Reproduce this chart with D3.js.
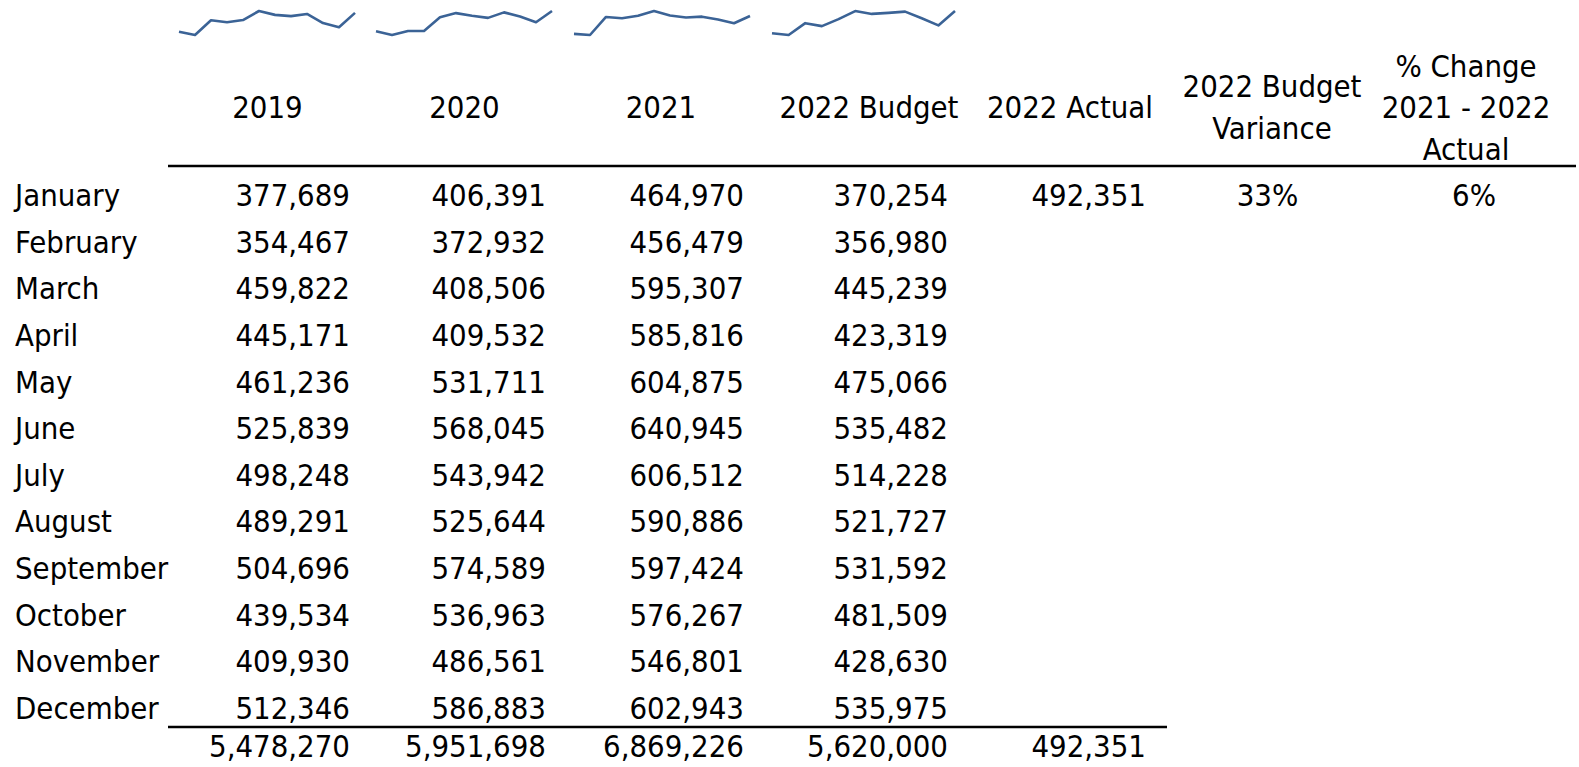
<!DOCTYPE html>
<html>
<head>
<meta charset="utf-8">
<script src="https://cdn.jsdelivr.net/npm/d3@7"></script>
<style>
  html, body { margin: 0; padding: 0; background: #fff; }
  svg { display: block; }
  text { font-family: "DejaVu Sans Condensed", "DejaVu Sans", sans-serif; font-stretch: condensed; font-size: 30.8px; fill: #000; }
</style>
</head>
<body>
<svg id="chart" width="1579" height="767"></svg>
<script>
const months = ["January","February","March","April","May","June","July","August","September","October","November","December"];
const v2019 = [377689,354467,459822,445171,461236,525839,498248,489291,504696,439534,409930,512346];
const v2020 = [406391,372932,408506,409532,531711,568045,543942,525644,574589,536963,486561,586883];
const v2021 = [464970,456479,595307,585816,604875,640945,606512,590886,597424,576267,546801,602943];
const vBudget = [370254,356980,445239,423319,475066,535482,514228,521727,531592,481509,428630,535975];
const vActual = [492351];
const budgetVariance = ["33%"];
const pctChange = ["6%"];
const totals = [5478270, 5951698, 6869226, 5620000, 492351];

const headers = [
  ["2019"], ["2020"], ["2021"], ["2022 Budget"], ["2022 Actual"],
  ["2022 Budget", "Variance"], ["% Change", "2021 - 2022", "Actual"]
];
const colKeys = ["c2019","c2020","c2021","cBudget","cActual","cVar","cPct"];

// layout
const tableLeft = 168, tableRight = 1576, totalRuleRight = 1167;
const valRight  = [350, 546, 744, 948, 1146];
const hdrCenter = [267.5, 464.5, 661, 869, 1070, 1272, 1466];
const pctCenter = [1267.5, 1474];
const sparkRange = [[179, 355], [376, 552], [574, 750], [772, 955]];

const svg = d3.select("#chart");
const fmt = d3.format(",");

const xVal = d3.scaleOrdinal().domain(colKeys.slice(0, 5)).range(valRight);
const xCenter = d3.scaleOrdinal().domain(colKeys).range(hdrCenter);
const xPct = d3.scaleOrdinal().domain(["cVar", "cPct"]).range(pctCenter);

const y = d3.scalePoint().domain(months).range([206, 719]);
const totalY = y("December") + 38;

// headers
const hdrBase = 118, hdrLH = 41.5;
headers.forEach((lines, i) => {
  const k = colKeys[i];
  lines.forEach((ln, j) => {
    svg.append("text")
      .attr("x", xCenter(k))
      .attr("y", hdrBase + (j - (lines.length - 1) / 2) * hdrLH)
      .attr("text-anchor", "middle")
      .text(ln);
  });
});

// header rule
svg.append("line")
  .attr("x1", tableLeft).attr("x2", tableRight)
  .attr("y1", 166).attr("y2", 166)
  .attr("stroke", "#000").attr("stroke-width", 2.5);

// month labels
svg.selectAll("text.month").data(months).join("text")
  .attr("class", "month")
  .attr("x", 15).attr("y", d => y(d))
  .text(d => d);

// numeric columns
const series = [
  {key: "c2019", values: v2019},
  {key: "c2020", values: v2020},
  {key: "c2021", values: v2021},
  {key: "cBudget", values: vBudget},
  {key: "cActual", values: vActual}
];
series.forEach(s => {
  svg.selectAll(null).data(s.values).join("text")
    .attr("x", xVal(s.key))
    .attr("y", (d, i) => y(months[i]))
    .attr("text-anchor", "end")
    .text(d => fmt(d));
});

// percent columns
[{key: "cVar", values: budgetVariance}, {key: "cPct", values: pctChange}].forEach(s => {
  svg.selectAll(null).data(s.values).join("text")
    .attr("x", xPct(s.key))
    .attr("y", (d, i) => y(months[i]))
    .attr("text-anchor", "middle")
    .text(d => d);
});

// total rule
svg.append("line")
  .attr("x1", tableLeft).attr("x2", totalRuleRight)
  .attr("y1", y("December") + 8).attr("y2", y("December") + 8)
  .attr("stroke", "#000").attr("stroke-width", 2.5);

// totals
svg.selectAll("text.total").data(totals).join("text")
  .attr("class", "total")
  .attr("x", (d, i) => xVal(colKeys[i]))
  .attr("y", totalY)
  .attr("text-anchor", "end")
  .text(d => fmt(d));

// sparklines
series.slice(0, 4).forEach((s, i) => {
  const sx = d3.scalePoint().domain(months).range(sparkRange[i]);
  const sy = d3.scaleLinear().domain(d3.extent(s.values)).range([35, 11]);
  const line = d3.line().x((d, j) => sx(months[j])).y(d => sy(d));
  svg.append("path")
    .datum(s.values)
    .attr("d", line)
    .attr("fill", "none")
    .attr("stroke", "#3b6396")
    .attr("stroke-width", 2.6)
    .attr("stroke-linejoin", "round");
});
</script>
</body>
</html>
